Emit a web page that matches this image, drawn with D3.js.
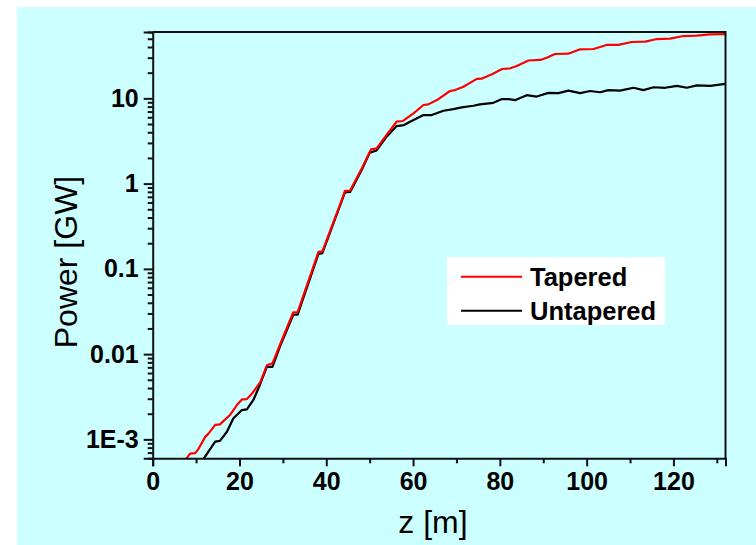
<!DOCTYPE html>
<html>
<head>
<meta charset="utf-8">
<script src="https://cdn.jsdelivr.net/npm/d3@7"></script>
<style>
  html, body { margin: 0; padding: 0; background: #ffffff; }
  svg { display: block; }
  text { font-family: "Liberation Sans", Arial, sans-serif; fill: #000; }
</style>
</head>
<body>
<svg id="chart" width="756" height="545"></svg>
<script>
// Longitudinal position along the undulator [m] and radiated power [GW]
const taperedZ = [7.8, 8.6, 9.8, 10.6, 12.1, 12.8, 14.4, 15.5, 17.8, 19.4,
  20.6, 21.7, 22.8, 24.8, 26.3, 27.6, 29.3, 32.4, 33.4, 38.2,
  39.1, 43.6, 44.3, 45.5, 48.2, 50.3, 51.6, 53.9, 56.2, 57.6,
  60.1, 62.4, 63.5, 65.5, 68.5, 69.7, 71.6, 74.7, 75.8, 78.3,
  80.5, 82.4, 83.9, 86.6, 89.3, 90.8, 92.7, 95.8, 98.5, 101.6,
  104.6, 107.3, 110.4, 113.5, 116.2, 119.2, 122.3, 125.4, 128.5, 131.9];
const taperedP = [6e-4, 6.8e-4, 6.9e-4, 7.8e-4, 1.07e-3, 1.16e-3, 1.48e-3, 1.5e-3, 1.93e-3, 2.53e-3,
  2.95e-3, 2.97e-3, 3.4e-3, 4.7e-3, 7.4e-3, 7.8e-3, 0.0128, 0.031, 0.031, 0.158,
  0.16, 0.65, 0.82, 0.83, 1.51, 2.52, 2.59, 3.72, 5.32, 5.42,
  6.67, 8.35, 8.5, 9.55, 12.2, 12.5, 13.7, 16.9, 17.0, 19.3,
  22.1, 22.5, 23.9, 27.8, 28.2, 30, 33.1, 33.4, 37.6, 37.9,
  42.3, 42.3, 45.8, 46.2, 49.6, 50.1, 53.8, 54.3, 56.4, 56.6];

const untaperedZ = [11.8, 14.4, 15.5, 17.1, 18.6, 20.5, 21.7, 23.2, 24.7, 26.3,
  27.6, 29.3, 32.4, 33.4, 38.2, 39.1, 43.6, 44.3, 45.5, 48.2,
  50.0, 51.6, 53.9, 56.2, 57.9, 59.3, 62.4, 64.3, 67.0, 69.3,
  71.2, 73.9, 75.4, 78.5, 80.5, 82.0, 83.6, 86.2, 88.5, 91.2,
  93.5, 95.8, 98.5, 100.8, 103.1, 105.0, 107.7, 110.8, 113.1, 115.4,
  118.1, 120.8, 123.1, 125.4, 128.5, 131.9];
const untaperedP = [6e-4, 9.4e-4, 9.6e-4, 1.23e-3, 1.77e-3, 2.2e-3, 2.25e-3, 2.9e-3, 4.35e-3, 7.1e-3,
  7.1e-3, 0.0122, 0.029, 0.029, 0.15, 0.153, 0.63, 0.79, 0.8, 1.45,
  2.3, 2.45, 3.55, 4.73, 4.86, 5.32, 6.37, 6.37, 7.15, 7.48,
  7.83, 8.18, 8.5, 8.87, 9.8, 9.8, 9.55, 10.9, 10.5, 11.6,
  11.5, 12.3, 11.5, 12.2, 11.8, 12.5, 12.3, 13.3, 12.5, 13.5,
  13.3, 14.0, 13.3, 14.2, 14.0, 14.8];

const seriesNames = ["Tapered", "Untapered"];
const seriesColors = ["#ff0000", "#000000"];

const xTicks = [0, 20, 40, 60, 80, 100, 120];
const xMinorTicks = [10, 30, 50, 70, 90, 110, 130];
const yTicks = [0.001, 0.01, 0.1, 1, 10];
const yTickLabels = ["1E-3", "0.01", "0.1", "1", "10"];

const xTitle = "z [m]";
const yTitle = "Power [GW]";

// Layout
const W = 756, H = 545;
const plot = { left: 152.7, right: 725.5, top: 32, bottom: 458.3 };

const svg = d3.select("#chart");

// Panel background
svg.append("rect")
  .attr("x", 17).attr("y", 7)
  .attr("width", W - 17).attr("height", H - 7)
  .attr("fill", "#ccffff");

const x = d3.scaleLinear().domain([0, 132]).range([plot.left, plot.right]);
const y = d3.scaleLog().domain([6e-4, 60]).range([plot.bottom, plot.top]);

// Minor log ticks: 2..9 in each decade inside the domain
const yMinorTicks = [];
for (let e = -4; e <= 1; e++) {
  for (let m = 2; m <= 9; m++) {
    const v = m * Math.pow(10, e);
    if (v >= 6e-4 && v <= 60) yMinorTicks.push(v);
  }
}

// Clip for data lines
svg.append("clipPath").attr("id", "plotClip")
  .append("rect")
  .attr("x", plot.left).attr("y", plot.top)
  .attr("width", plot.right - plot.left).attr("height", plot.bottom - plot.top);

// Data lines
const line = d3.line().x(d => x(d[0])).y(d => y(d[1]));
const series = [
  d3.zip(taperedZ, taperedP),
  d3.zip(untaperedZ, untaperedP)
];
// untapered first so the tapered curve sits on top where they overlap
[1, 0].forEach(i => {
  svg.append("path")
    .datum(series[i])
    .attr("clip-path", "url(#plotClip)")
    .attr("fill", "none")
    .attr("stroke", seriesColors[i])
    .attr("stroke-width", 2.2)
    .attr("stroke-linejoin", "round")
    .attr("d", line);
});

// Frame: top and right edges
svg.append("path")
  .attr("d", `M${plot.left},${plot.top}H${plot.right}V${plot.bottom}`)
  .attr("fill", "none").attr("stroke", "#111").attr("stroke-width", 2);

// X axis (major + minor)
const xAxis = svg.append("g").attr("transform", `translate(0,${plot.bottom})`);
xAxis.call(d3.axisBottom(x).tickValues(xTicks).tickFormat(d3.format("d")).tickSize(8).tickPadding(6));
xAxis.append("g").call(d3.axisBottom(x).tickValues(xMinorTicks).tickFormat("").tickSize(5))
  .select(".domain").remove();
xAxis.selectAll(".domain").attr("stroke", "#111").attr("stroke-width", 2);
xAxis.selectAll(".tick line").attr("stroke", "#111").attr("stroke-width", 2);
xAxis.selectAll(".tick text")
  .style("font-size", "25px").style("font-weight", "bold")
  .attr("fill", "#000");

// Y axis (log, major + minor)
const yAxis = svg.append("g").attr("transform", `translate(${plot.left},0)`);
yAxis.call(d3.axisLeft(y).tickValues(yTicks)
  .tickFormat((d, i) => yTickLabels[i]).tickSize(9).tickPadding(5));
yAxis.append("g").call(d3.axisLeft(y).tickValues(yMinorTicks).tickFormat("").tickSize(5))
  .select(".domain").remove();
yAxis.selectAll(".domain").attr("stroke", "#111").attr("stroke-width", 2);
yAxis.selectAll(".tick line").attr("stroke", "#111").attr("stroke-width", 2);
yAxis.selectAll(".tick text")
  .style("font-size", "25px").style("font-weight", "bold")
  .attr("fill", "#000");

// Axis titles
svg.append("text")
  .attr("x", 433).attr("y", 533)
  .attr("text-anchor", "middle")
  .style("font-size", "32px")
  .text(xTitle);
svg.append("text")
  .attr("transform", "translate(77,262) rotate(-90)")
  .attr("text-anchor", "middle")
  .style("font-size", "32px")
  .text(yTitle);

// Legend
const legend = svg.append("g");
legend.append("rect")
  .attr("x", 447).attr("y", 257).attr("width", 218).attr("height", 68)
  .attr("fill", "#ffffff");
seriesNames.forEach((name, i) => {
  const ly = 276.7 + i * 34;
  legend.append("line")
    .attr("x1", 461).attr("x2", 522).attr("y1", ly).attr("y2", ly)
    .attr("stroke", seriesColors[i]).attr("stroke-width", 2);
  legend.append("text")
    .attr("x", 530).attr("y", ly + 9)
    .style("font-size", "25.5px").style("font-weight", "bold")
    .text(name);
});
</script>
</body>
</html>
